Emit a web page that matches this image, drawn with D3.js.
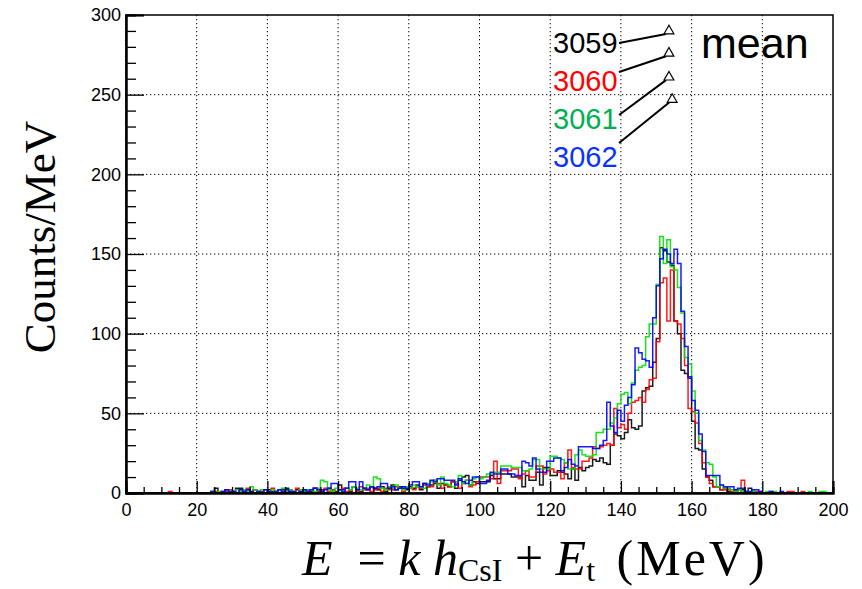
<!DOCTYPE html>
<html>
<head>
<meta charset="utf-8">
<script src="https://cdn.jsdelivr.net/npm/d3@7"></script>
<style>
  body { margin: 0; background: #fff; }
  svg { display: block; }
  text { white-space: pre; }
</style>
</head>
<body>
<svg id="chart" width="862" height="589"></svg>
<script>
// energy spectrum, 1 MeV bins from 0 to 200 MeV
const binEdges = d3.range(0, 201)
const runs = ["3059", "3060", "3061", "3062"]
const xTicks = [0, 20, 40, 60, 80, 100, 120, 140, 160, 180, 200]
const yTicks = [0, 50, 100, 150, 200, 250, 300]

const counts3059 = [
  0,0,0,0,0,0,0,0,0,0, 0,0,0,0,0,0,0,0,0,0,
  0,0,0,0,1,3,0,1,2,0, 1,3,3,1,2,0,2,1,1,0,
  2,1,1,0,2,3,1,0,2,1, 1,2,1,3,1,2,0,3,2,1,
  5,2,3,1,4,2,1,3,2,4, 3,2,4,1,3,5,2,4,3,2,
  4,3,5,2,6,4,5,6,3,6, 5,4,7,3,8,10,11,5,7,6,
  7,7,7,11,9,9,12,12,12,10, 10,10,4,11,8,8,13,5,16,16,
  11,11,14,13,12,9,15,8,16,14, 16,17,21,20,22,19,18,30,37,36,
  34,38,46,41,40,42,64,66,67,82, 97,154,152,145,143,108,100,77,75,72,
  45,28,27,15,10,8,4,4,2,3, 1,0,2,0,2,0,3,1,0,1,
  0,0,0,0,0,0,0,0,0,0, 0,0,0,0,0,0,0,0,0,0
]
const counts3060 = [
  0,0,0,0,0,0,0,0,0,0, 0,0,1,0,0,0,0,0,0,0,
  0,0,0,0,0,1,0,0,1,2, 1,0,2,1,3,1,2,0,1,2,
  1,3,0,2,1,0,2,1,3,1, 2,1,0,3,1,2,3,1,2,0,
  2,3,1,2,0,1,4,2,3,1, 2,3,1,3,2,2,4,3,1,3,
  3,2,4,3,5,4,4,8,6,3, 5,4,7,6,3,6,8,4,5,7,
  10,10,10,9,20,6,14,14,14,15, 15,9,12,14,10,10,17,17,12,14,
  15,13,13,9,19,27,16,15,15,20, 20,22,29,28,29,30,31,30,53,41,
  43,40,50,57,58,60,57,65,71,72, 95,132,135,108,140,108,106,97,80,53,
  51,44,31,19,10,6,4,4,2,2, 2,1,1,2,8,1,0,0,1,0,
  0,0,1,0,0,0,0,1,1,0, 0,1,0,0,0,0,0,0,0,0
]
const counts3061 = [
  0,0,0,0,0,0,0,0,0,0, 0,0,0,0,0,0,0,0,0,0,
  0,0,0,0,1,0,1,0,0,1, 0,2,1,2,1,4,2,1,2,0,
  1,2,1,0,3,1,2,1,0,2, 1,2,2,1,3,8,7,2,1,3,
  2,1,3,2,4,3,2,3,5,4, 10,9,3,2,4,3,5,3,2,4,
  3,5,4,4,3,6,7,8,5,10, 6,5,4,7,11,6,8,5,9,10,
  9,10,12,12,13,13,17,17,17,16, 16,16,14,14,15,21,21,15,15,15,
  23,23,22,21,19,15,15,24,27,24, 23,23,24,38,38,40,40,44,47,56,
  62,63,56,69,77,79,80,98,106,106, 131,161,144,159,142,140,129,113,85,81,
  64,50,33,27,19,18,10,4,5,3, 3,2,1,2,1,1,0,1,0,0,
  0,1,0,1,0,0,0,0,0,0, 0,0,0,1,0,0,1,1,0,0
]
const counts3062 = [
  0,0,0,0,0,0,0,0,0,0, 0,0,0,0,0,0,0,0,0,0,
  0,0,0,0,1,0,0,1,2,1, 1,0,2,1,2,1,0,1,0,2,
  1,0,1,2,1,2,1,1,0,1, 2,1,2,3,2,1,2,3,6,6,
  2,1,3,7,7,2,7,3,2,4, 3,4,6,6,3,4,2,3,4,3,
  5,7,7,4,6,5,8,7,9,9, 8,8,8,5,9,7,6,8,10,10,
  6,6,8,13,12,12,15,15,12,12, 11,11,20,19,17,22,15,13,13,20,
  20,22,22,14,16,21,18,17,29,29, 29,29,28,28,30,33,57,42,38,52,
  45,55,60,68,91,88,84,83,79,110, 130,147,153,150,144,153,144,114,92,73,
  58,52,37,26,11,11,11,11,5,4, 4,4,2,3,3,1,1,2,2,1,
  0,0,1,0,0,1,0,0,0,0, 0,0,0,0,0,0,0,0,0,0
]
const allCounts = [counts3059, counts3060, counts3061, counts3062]

// mean markers (MeV) and where they sit in the legend box
const meanE = [153.6, 153.6, 153.6, 154.5]
const markerLevel = [290, 276, 261, 247]

const lineColors = ["#000000", "#ff0000", "#00e000", "#0000ff"]
const textColors = ["#000000", "#ff0000", "#00b050", "#0a32ff"]

const svg = d3.select("#chart")
const plotL = 126, plotT = 15, plotR = 833, plotB = 493

const x = d3.scaleLinear().domain([0, 200]).range([plotL, plotR])
const y = d3.scaleLinear().domain([0, 300]).range([plotB, plotT])

// dotted grid
svg.append("g").selectAll("line")
  .data(xTicks.slice(1, -1)).enter().append("line")
  .attr("x1", d => x(d)).attr("x2", d => x(d))
  .attr("y1", plotT).attr("y2", plotB)
  .attr("stroke", "#000").attr("stroke-width", 1)
  .attr("stroke-dasharray", "1.3,2.7")
svg.append("g").selectAll("line")
  .data(yTicks.slice(1, -1)).enter().append("line")
  .attr("x1", plotL).attr("x2", plotR)
  .attr("y1", d => y(d)).attr("y2", d => y(d))
  .attr("stroke", "#000").attr("stroke-width", 1)
  .attr("stroke-dasharray", "1.3,2.7")

// histograms as outlines
const step = d3.line()
  .x(d => x(d[0]))
  .y(d => y(d[1]))
  .curve(d3.curveStepAfter)

allCounts.forEach((counts, i) => {
  const pts = counts.map((c, b) => [binEdges[b], c])
  pts.push([binEdges[200], counts[199]])
  svg.append("path")
    .attr("d", step(pts))
    .attr("fill", "none")
    .attr("stroke", lineColors[i])
    .attr("stroke-width", 1.5)
    .attr("opacity", 0.9)
})

// frame
svg.append("rect")
  .attr("x", plotL).attr("y", plotT)
  .attr("width", plotR - plotL).attr("height", plotB - plotT)
  .attr("fill", "none").attr("stroke", "#000").attr("stroke-width", 1.5)

// axes, ticks pointing inwards like ROOT
svg.append("g").attr("transform", "translate(0," + plotB + ")")
  .call(d3.axisBottom(x).tickValues(xTicks).tickSize(-12).tickPadding(10).tickFormat(d3.format("d")))
svg.append("g").attr("transform", "translate(0," + plotB + ")")
  .call(d3.axisBottom(x).tickValues(d3.range(0, 201, 5).filter(v => v % 20 != 0)).tickSize(-6).tickFormat(""))
svg.append("g").attr("transform", "translate(" + plotL + ",0)")
  .call(d3.axisLeft(y).tickValues(yTicks).tickSize(-18).tickPadding(5).tickFormat(d3.format("d")))
svg.append("g").attr("transform", "translate(" + plotL + ",0)")
  .call(d3.axisLeft(y).tickValues(d3.range(0, 301, 10).filter(v => v % 50 != 0)).tickSize(-10).tickFormat(""))

svg.selectAll(".domain").attr("stroke-width", 2)
svg.selectAll(".tick line").attr("stroke", "#000").attr("stroke-width", 1.3)
svg.selectAll(".tick text")
  .attr("font-family", "Liberation Sans, Arial, sans-serif")
  .attr("font-size", 18)
  .attr("fill", "#000")

// axis titles
svg.append("text")
  .attr("transform", "translate(55,237) rotate(-90)")
  .attr("text-anchor", "middle")
  .attr("font-family", "Liberation Serif, serif")
  .attr("font-size", 45)
  .text("Counts/MeV")

const xTitle = svg.append("text")
  .attr("x", 302).attr("y", 575)
  .attr("font-family", "Liberation Serif, serif")
  .attr("font-size", 50)
const parts = [
  ["E", "i"], ["  = ", "n"], ["k", "i"], [" ", "n"], ["h", "i"], ["CsI", "s"],
  [" + ", "n"], ["E", "i"], ["t", "s"], [" (MeV)", "w"]
]
let shifted = false
parts.forEach(p => {
  const t = xTitle.append("tspan").text(p[0])
  if (p[1] == "i") t.attr("font-style", "italic")
  if (p[1] == "w") t.attr("dx", 6).attr("letter-spacing", 3)
  if (p[1] == "s") {
    t.attr("font-size", 32).attr("dy", 6)
    shifted = true
  } else if (shifted) {
    t.attr("dy", -6)
    shifted = false
  }
})

// legend: run numbers linked to their mean markers
const labelX = x(120.8)
runs.forEach((r, i) => {
  const ly = y(markerLevel[0]) + 22 + i * 38
  svg.append("text")
    .attr("x", labelX).attr("y", ly)
    .attr("font-family", "Liberation Sans, Arial, sans-serif")
    .attr("font-size", 29)
    .attr("fill", textColors[i])
    .text(r)
  const sx = labelX + 66
  const sy = [ly - 10, ly - 19, ly - 14, ly - 24][i]
  svg.append("line")
    .attr("x1", sx).attr("y1", sy)
    .attr("x2", x(meanE[i]) - 3).attr("y2", y(markerLevel[i]) + 3)
    .attr("stroke", "#000").attr("stroke-width", 2)
  svg.append("path")
    .attr("d", d3.symbol(d3.symbolTriangle, 42)())
    .attr("transform", "translate(" + x(meanE[i]) + "," + y(markerLevel[i]) + ")")
    .attr("fill", "#fff").attr("stroke", "#000").attr("stroke-width", 1.2)
})

svg.append("text")
  .attr("x", 701).attr("y", 58)
  .attr("font-family", "Liberation Sans, Arial, sans-serif")
  .attr("font-size", 43)
  .text("mean")
</script>
</body>
</html>
